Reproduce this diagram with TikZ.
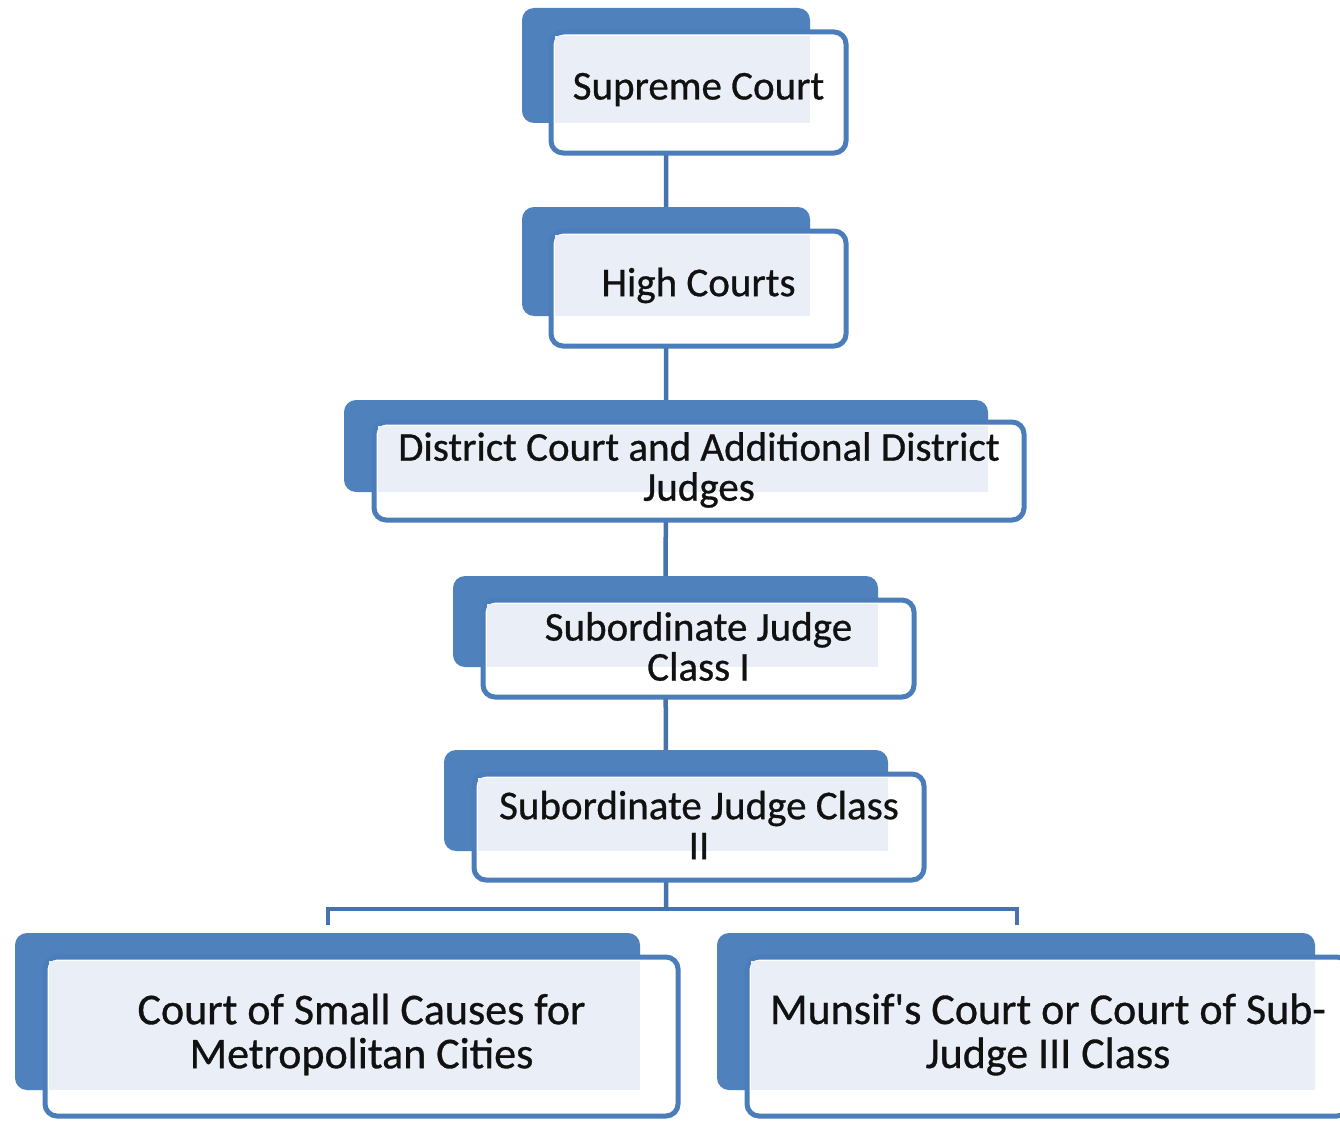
\documentclass[tikz,border=0pt]{standalone}
\usepackage{fontspec}
\setmainfont{Carlito}
\newfontfamily\calfont{Carlito}[FakeBold=0.7]
\usetikzlibrary{fit}
\definecolor{bk}{HTML}{4F81BD}
\definecolor{fr}{HTML}{4A7DBA}
\definecolor{innerc}{HTML}{EAEFF7}
\definecolor{lnc}{HTML}{4672AE}
\definecolor{txtc}{HTML}{111111}
\pgfdeclarelayer{bg}
\pgfsetlayers{bg,main}
\newcommand\court[9]{%
  \node[backbox, fit={(#2,#3) (#4,#5)}] (#1b) {};
  \node[frontbox, fit={(#6,#7) (#8,#9)}] (#1f) {};
  \fill[innerc] ({#6+4},{#7+4}) rectangle (#4,#5);
}
\begin{document}
\begin{tikzpicture}[x=1pt,y=-1pt,
  backbox/.style={fill=bk, rounded corners=12pt, inner sep=0pt, draw=none},
  frontbox/.style={draw=fr, line width=5pt, fill=white, rounded corners=12pt, inner sep=0pt},
  lbl/.style={align=center, text=txtc, font=\calfont\fontsize{41}{40}\selectfont},
  lblbig/.style={align=center, text=txtc, font=\calfont\fontsize{44}{44}\selectfont},
  conn/.style={draw=lnc, line width=4.5pt}]
\useasboundingbox (0,0) rectangle (1340,1121);
\court{sc}{522}{8}{810}{123}{551}{32}{846}{153}
\node[lbl] (sct) at ([yshift=3pt]scf.center) {Supreme Court};
\court{hc}{522}{207}{810}{316}{551}{231}{846}{346}
\node[lbl] (hct) at ([yshift=3pt]hcf.center) {High Courts};
\court{dc}{344}{400}{988}{492}{374}{422}{1024}{520}
\node[lbl] (dct) at ([yshift=1pt]dcf.center) {District Court and Additional District\\Judges};
\court{sa}{453}{576}{878}{667}{483}{600}{914}{697}
\node[lbl] (sat) at ([yshift=2pt]saf.center) {Subordinate Judge\\Class I};
\court{sb}{444}{750}{888}{851}{474}{774}{924}{880}
\node[lbl] (sbt) at ([yshift=2pt]sbf.center) {Subordinate Judge Class\\II};
\court{lc}{15}{933}{640}{1090}{45}{957}{678}{1116}
\node[lblbig] (lct) at ([yshift=2pt]lcf.center) {Court of Small Causes for\\Metropolitan Cities};
\court{rc}{717}{933}{1315}{1090}{747}{957}{1349}{1116}
\node[lblbig] (rct) at ([yshift=2pt]rcf.center) {Munsif's Court or Court of Sub-\\Judge III Class};
\coordinate (bus) at (666,909);
\coordinate (lstub) at (328,925);
\coordinate (rstub) at (1017,925);
\begin{pgfonlayer}{bg}
\fill[white] (0,0) rectangle (1340,1121);
\draw[conn] (scb.center) -- (hcb.center) -- (dcb.center) -- (sab.center) -- (sbb.center) -- (bus);
\draw[conn] (lstub) |- (bus) -| (rstub);
\end{pgfonlayer}
\end{tikzpicture}
\end{document}
